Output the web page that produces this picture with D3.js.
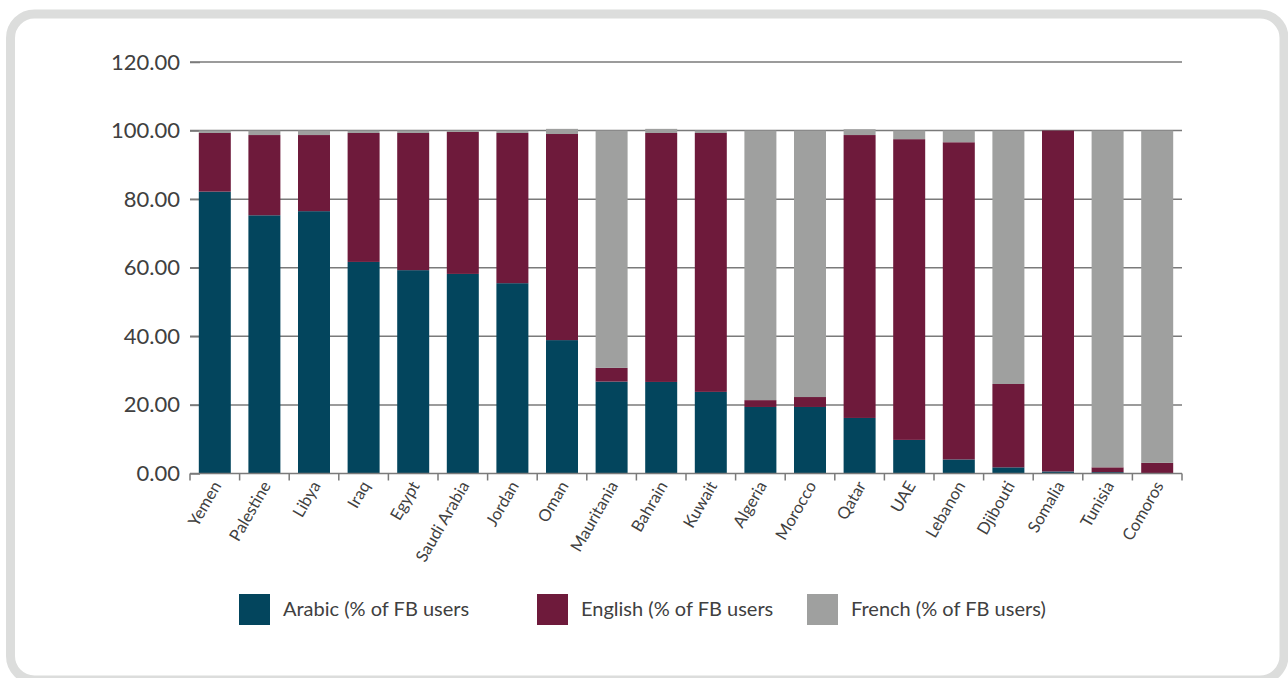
<!DOCTYPE html>
<html><head><meta charset="utf-8">
<script src="https://cdn.jsdelivr.net/npm/d3@7"></script>
<style>body{margin:0;background:#fff}svg{display:block}text{font-family:Lato,"Open Sans",sans-serif}</style>
</head><body><svg id="c" width="1288" height="678"></svg>
<script>
const countries=["Yemen","Palestine","Libya","Iraq","Egypt","Saudi Arabia","Jordan","Oman","Mauritania","Bahrain","Kuwait","Algeria","Morocco","Qatar","UAE","Lebanon","Djibouti","Somalia","Tunisia","Comoros"];
const arabic=[82.2,75.3,76.5,61.7,59.3,58.2,55.5,38.9,26.8,26.7,23.8,19.4,19.4,16.2,9.8,4.1,1.8,0.6,0.4,0.0];
const english=[17.1,23.4,22.2,37.6,40.0,41.4,43.8,60.1,4.0,72.6,75.5,2.0,2.9,82.5,87.7,92.5,24.3,99.4,1.4,3.1];
const french=[0.7,1.3,1.3,0.7,0.7,0.4,0.7,1.5,69.2,1.2,0.7,78.6,77.7,1.7,2.5,3.4,73.9,0.0,98.2,96.9];
const seriesNames=["Arabic (% of FB users","English (% of FB users","French (% of FB users)"];
const colors=["#03455d","#6e1a3b","#9fa09f"];
const yTicks=[0,20,40,60,80,100,120];

const svg=d3.select("#c");
svg.append("rect").attr("x",10.5).attr("y",14).attr("width",1273.5).attr("height",666).attr("rx",24)
  .attr("fill","#fff").attr("stroke","#dcdddc").attr("stroke-width",9);

const L=190,R=1182,T=62,B=473.5;
const x=d3.scaleBand().domain(countries).range([L,R]).paddingInner(0.355).paddingOuter(0.1775);
const y=d3.scaleLinear().domain([0,120]).range([B,T]);

// gridlines
svg.append("g").selectAll("line").data(yTicks.filter(d=>d>0)).join("line")
  .attr("x1",L).attr("x2",R).attr("y1",d=>y(d)).attr("y2",d=>y(d))
  .attr("stroke","#7a7a7a").attr("stroke-width",1.5);
// y axis tick labels + ticks
const ya=svg.append("g").attr("transform",`translate(${L},0)`)
  .call(d3.axisRight(y).tickValues(yTicks).tickSize(10).tickFormat(d3.format(".2f")));
ya.select(".domain").remove();
ya.selectAll(".tick line").attr("stroke","#7a7a7a").attr("stroke-width",1.5);
ya.selectAll(".tick text").attr("x",-10).attr("text-anchor","end").attr("font-size",22).attr("fill","#404040").attr("font-family","Lato");

const stack=d3.stack().keys([0,1,2]).value((d,k)=>[arabic,english,french][k][d])(d3.range(countries.length));
svg.append("g").selectAll("g").data(stack).join("g").attr("fill",(d,i)=>colors[i])
  .selectAll("rect").data(d=>d).join("rect")
  .attr("x",(d,i)=>x(countries[i])).attr("width",x.bandwidth())
  .attr("y",d=>y(d[1])).attr("height",d=>Math.max(0,y(d[0])-y(d[1])));

// x axis
const step=x.step();
const xg=svg.append("g");
xg.append("line").attr("x1",L).attr("x2",R).attr("y1",B).attr("y2",B).attr("stroke","#7a7a7a").attr("stroke-width",1.5);
xg.selectAll("line.t").data(d3.range(countries.length+1)).join("line").attr("class","t")
  .attr("x1",i=>L+i*step).attr("x2",i=>L+i*step).attr("y1",B).attr("y2",B+7)
  .attr("stroke","#7a7a7a").attr("stroke-width",1.5);
xg.selectAll("text").data(countries).join("text")
  .attr("transform",d=>`translate(${x(d)+x.bandwidth()/2+7},${B+12}) rotate(-60)`)
  .attr("text-anchor","end").attr("font-size",16.5).attr("fill","#404040").text(d=>d);

// legend
const lx=[239,537,807];
const lg=svg.append("g").selectAll("g").data(seriesNames).join("g").attr("transform",(d,i)=>`translate(${lx[i]},594)`);
lg.append("rect").attr("width",31).attr("height",31).attr("fill",(d,i)=>colors[i]);
lg.append("text").attr("x",44).attr("y",22).attr("font-size",20).attr("fill","#404040").text(d=>d);
</script></body></html>
